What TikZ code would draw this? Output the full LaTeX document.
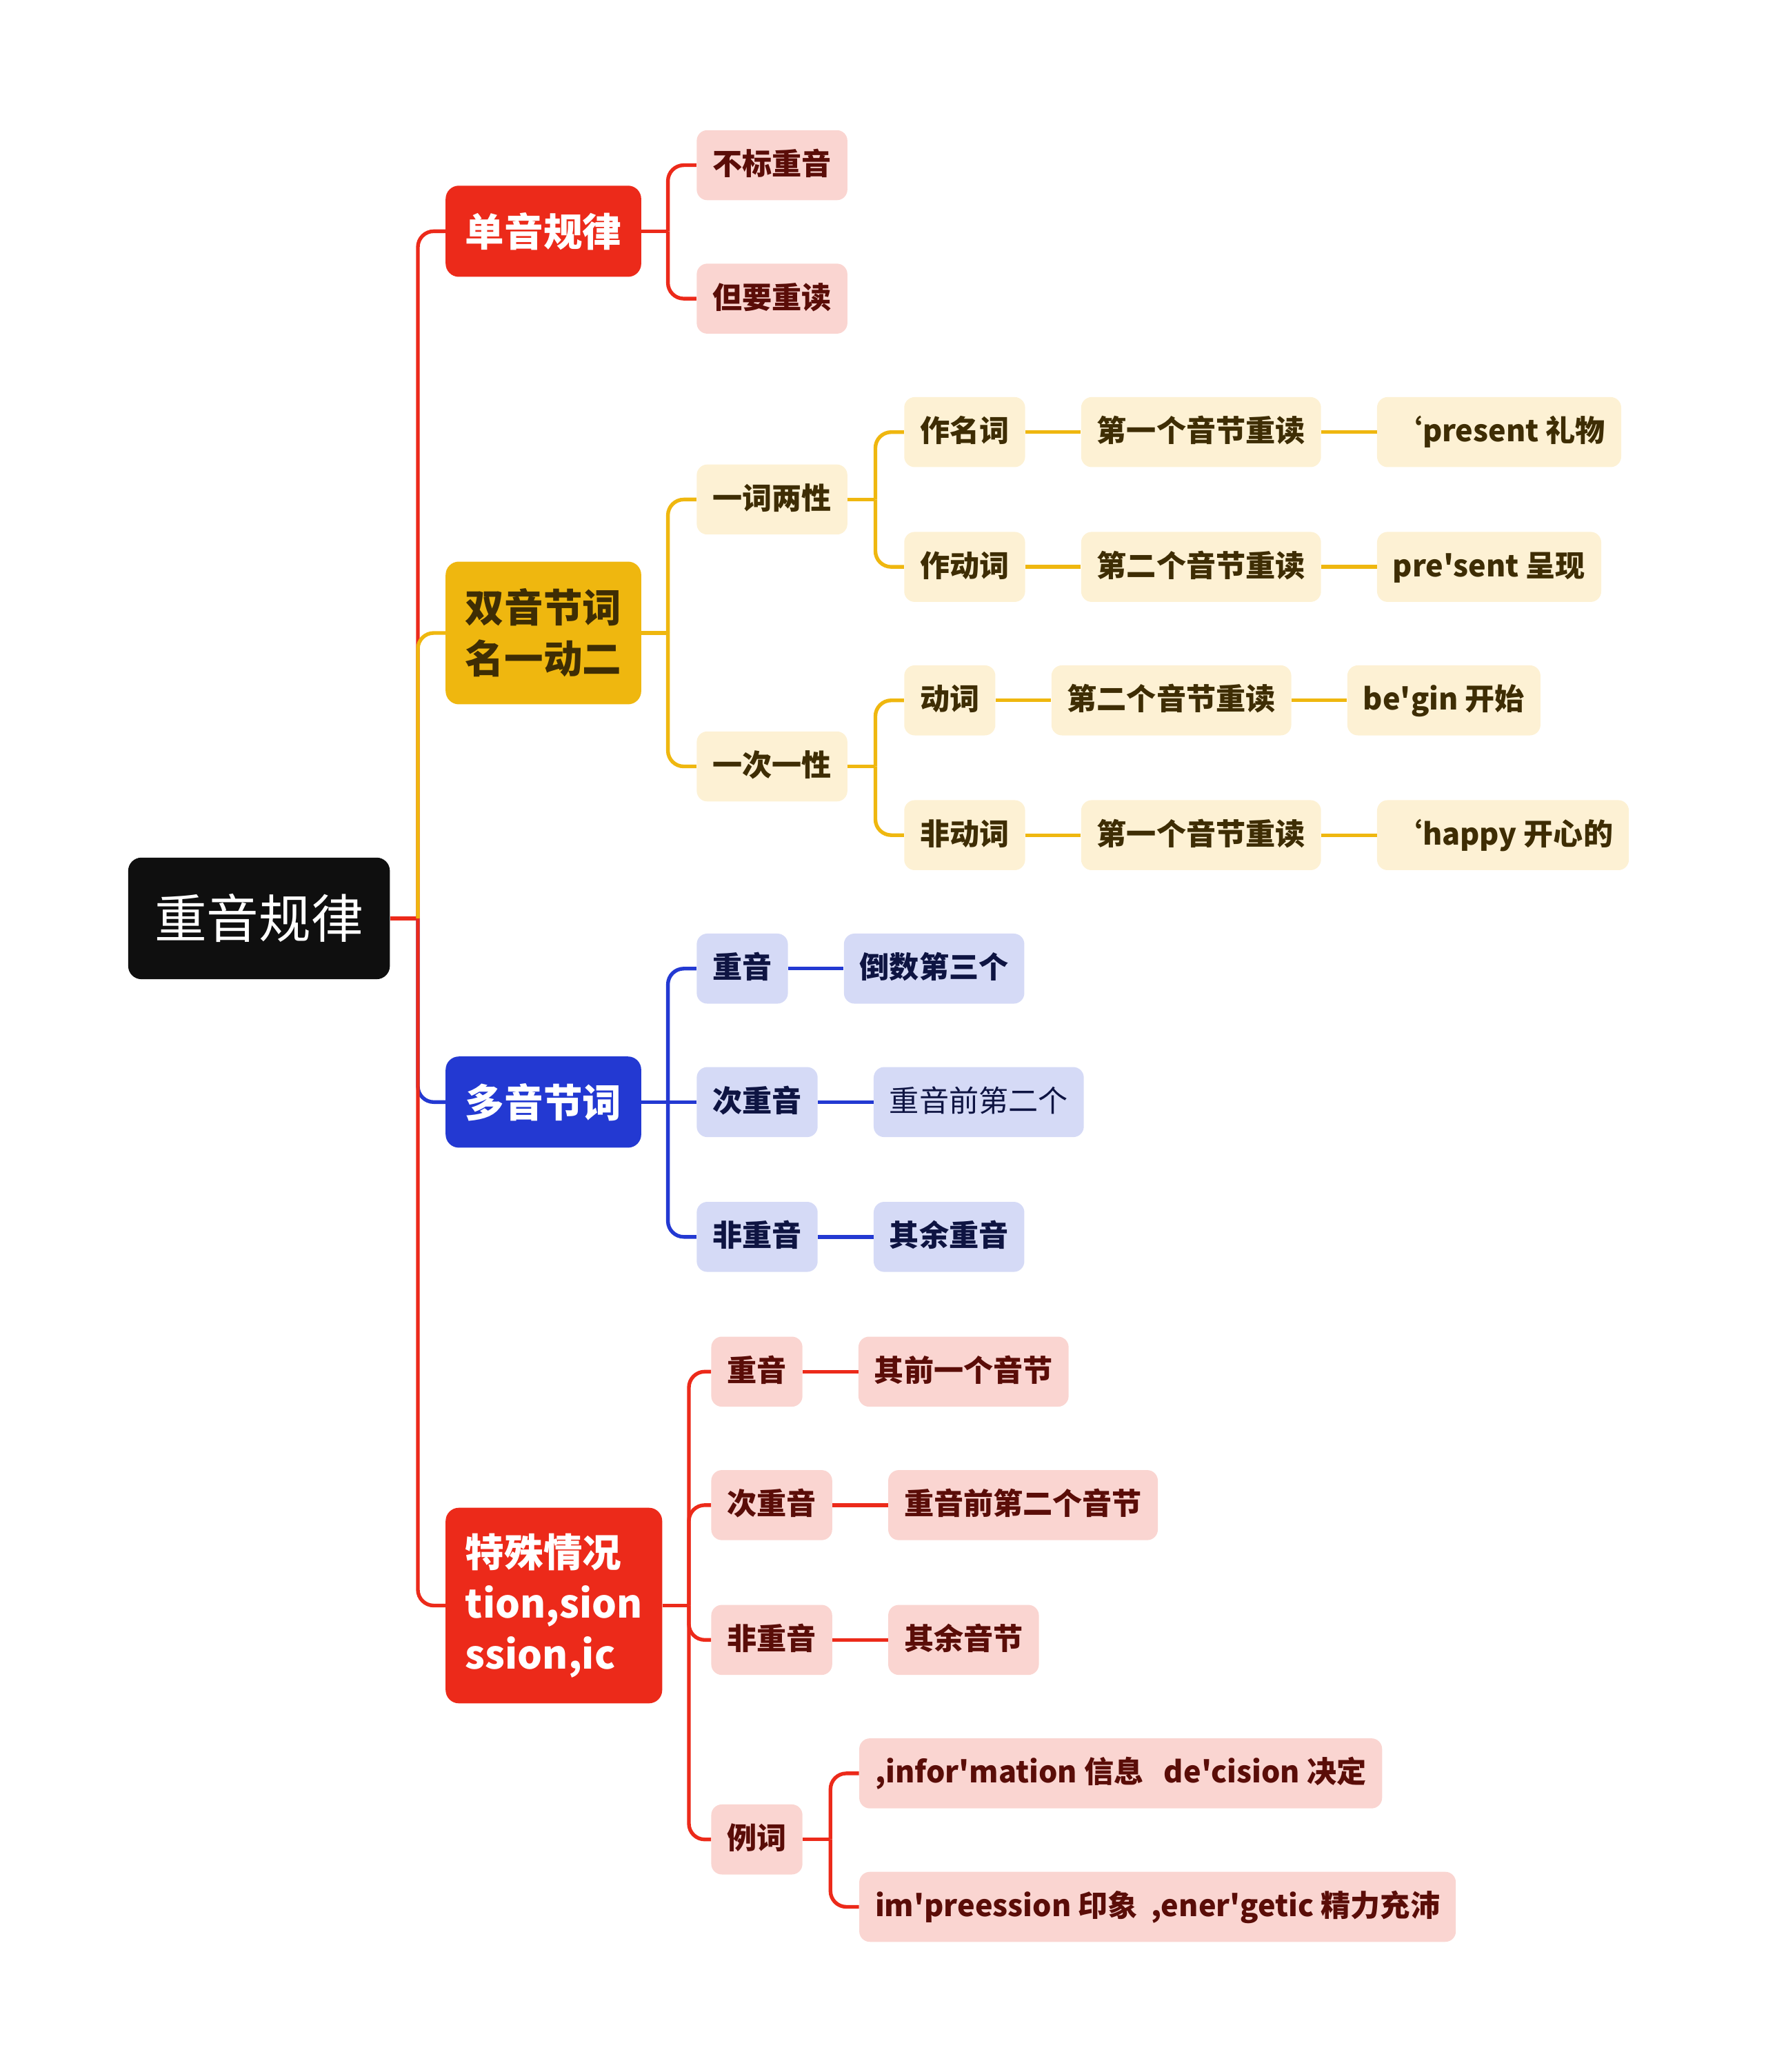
\documentclass[tikz,border=0pt]{standalone}
\usepackage{fontspec}
\newfontfamily\cjk{Noto Sans CJK SC}
\usetikzlibrary{positioning}

\definecolor{rootblack}{HTML}{0F0F0F}
\definecolor{mainred}{HTML}{EC2A1A}
\definecolor{mainyellow}{HTML}{EFB70F}
\definecolor{mainblue}{HTML}{2339D2}
\definecolor{pinkfill}{HTML}{FAD5D1}
\definecolor{pinktext}{HTML}{5A0D08}
\definecolor{creamfill}{HTML}{FDF1D4}
\definecolor{creamtext}{HTML}{3E2D04}
\definecolor{lilacfill}{HTML}{D5DAF6}
\definecolor{lilactext}{HTML}{0E1442}

\tikzset{
    topic/.style={rounded corners=10pt, minimum width=148pt, minimum height=69pt, inner xsep=15pt, anchor=west, align=left, font=\cjk\bfseries\fontsize{29.5}{38.5}\selectfont},
    sub/.style={rounded corners=8pt, minimum height=53pt, inner xsep=12pt, anchor=west, text height=19pt, text depth=4.5pt, font=\cjk\bfseries\fontsize{22.5}{27}\selectfont},
    pinkbox/.style={sub, fill=pinkfill, text=pinktext},
    creambox/.style={sub, fill=creamfill, text=creamtext},
    lilacbox/.style={sub, fill=lilacfill, text=lilactext},
    redline/.style={draw=mainred, line width=2.8pt, rounded corners=12pt},
    yellowline/.style={draw=mainyellow, line width=2.8pt, rounded corners=12pt},
    blueline/.style={draw=mainblue, line width=2.8pt, rounded corners=12pt}
}

\begin{document}
\begin{tikzpicture}[x=1pt, y=-1pt]
    \useasboundingbox (0,0) rectangle (1336,1568);

    % Root and main branches
    \node[fill=rootblack, text=white, rounded corners=10pt, minimum width=198pt, minimum height=92pt, font=\cjk\fontsize{39.5}{46}\selectfont] (rule) at (196,695) {重音规律};
    \node[topic, fill=mainred, text=white] (single) at (337,175) {单音规律};
    \node[topic, fill=mainyellow, text=creamtext, minimum height=108pt] (dual) at (337,479) {双音节词\\名一动二};
    \node[topic, fill=mainblue, text=white] (multi) at (337,834) {多音节词};
    \node[topic, fill=mainred, text=white, minimum width=160pt, minimum height=148pt] (special) at (337,1215) {特殊情况\\tion,sion\\ssion,ic};

    % Single syllable
    \node[pinkbox] (nomark) at (527,125) {不标重音};
    \node[pinkbox] (readit) at (527,226) {但要重读};

    % Two syllables
    \node[creambox] (twopos) at (527,378) {一词两性};
    \node[creambox] (onepos) at (527,580) {一次一性};
    \node[creambox] (noun) at (684,327) {作名词};
    \node[creambox, right=42pt of noun] (nounrule) {第一个音节重读};
    \node[creambox, right=42pt of nounrule] (nounex) {‘present 礼物};
    \node[creambox] (verb) at (684,429) {作动词};
    \node[creambox, right=42pt of verb] (verbrule) {第二个音节重读};
    \node[creambox, right=42pt of verbrule] (verbex) {pre'sent 呈现};
    \node[creambox] (verbonly) at (684,530) {动词};
    \node[creambox, right=42pt of verbonly] (vrule) {第二个音节重读};
    \node[creambox, right=42pt of vrule] (vex) {be'gin 开始};
    \node[creambox] (nonverb) at (684,632) {非动词};
    \node[creambox, right=42pt of nonverb] (nrule) {第一个音节重读};
    \node[creambox, right=42pt of nrule] (nex) {‘happy 开心的};

    % Many syllables
    \node[lilacbox] (mstress) at (527,733) {重音};
    \node[lilacbox, right=42pt of mstress] (mstressr) {倒数第三个};
    \node[lilacbox] (msec) at (527,834) {次重音};
    \node[lilacbox, right=42pt of msec, font=\cjk\fontsize{22.5}{27}\selectfont] (msecr) {重音前第二个};
    \node[lilacbox] (mnon) at (527,936) {非重音};
    \node[lilacbox, right=42pt of mnon] (mnonr) {其余重音};

    % Special cases
    \node[pinkbox] (sstress) at (538,1038) {重音};
    \node[pinkbox, right=42pt of sstress] (sstressr) {其前一个音节};
    \node[pinkbox] (ssec) at (538,1139) {次重音};
    \node[pinkbox, right=42pt of ssec] (ssecr) {重音前第二个音节};
    \node[pinkbox] (snon) at (538,1241) {非重音};
    \node[pinkbox, right=42pt of snon] (snonr) {其余音节};
    \node[pinkbox] (sex) at (538,1392) {例词};
    \node[pinkbox] (sexa) at (650,1342) {,infor'mation 信息\ \ \ de'cision 决定};
    \node[pinkbox] (sexb) at (650,1443) {im'preession 印象\ \ ,ener'getic 精力充沛};

    % Lines from the root
    \coordinate (rootsplit) at ([xshift=21pt]rule.east);
    \draw[redline] (rule.east) -- (rootsplit);
    \draw[blueline] (rootsplit) |- (multi.west);
    \draw[redline] (rootsplit) |- (single.west);
    \draw[redline] (rootsplit) |- (special.west);
    \draw[yellowline] (rootsplit) |- (dual.west);

    % Lines, single syllable
    \coordinate (singlesplit) at ([xshift=20pt]single.east);
    \draw[redline] (single.east) -- (singlesplit);
    \draw[redline] (singlesplit) |- (nomark.west);
    \draw[redline] (singlesplit) |- (readit.west);

    % Lines, two syllables
    \coordinate (dualsplit) at ([xshift=20pt]dual.east);
    \draw[yellowline] (dual.east) -- (dualsplit);
    \draw[yellowline] (dualsplit) |- (twopos.west);
    \draw[yellowline] (dualsplit) |- (onepos.west);
    \coordinate (twosplit) at ([xshift=21pt]twopos.east);
    \draw[yellowline] (twopos.east) -- (twosplit);
    \draw[yellowline] (twosplit) |- (noun.west);
    \draw[yellowline] (twosplit) |- (verb.west);
    \coordinate (onesplit) at ([xshift=21pt]onepos.east);
    \draw[yellowline] (onepos.east) -- (onesplit);
    \draw[yellowline] (onesplit) |- (verbonly.west);
    \draw[yellowline] (onesplit) |- (nonverb.west);
    \draw[yellowline] (noun) -- (nounrule);
    \draw[yellowline] (nounrule) -- (nounex);
    \draw[yellowline] (verb) -- (verbrule);
    \draw[yellowline] (verbrule) -- (verbex);
    \draw[yellowline] (verbonly) -- (vrule);
    \draw[yellowline] (vrule) -- (vex);
    \draw[yellowline] (nonverb) -- (nrule);
    \draw[yellowline] (nrule) -- (nex);

    % Lines, many syllables
    \coordinate (multisplit) at ([xshift=20pt]multi.east);
    \draw[blueline] (multi.east) -- (multisplit);
    \draw[blueline] (multisplit) |- (mstress.west);
    \draw[blueline] (multisplit) -- (msec.west);
    \draw[blueline] (multisplit) |- (mnon.west);
    \draw[blueline] (mstress) -- (mstressr);
    \draw[blueline] (msec) -- (msecr);
    \draw[blueline] (mnon) -- (mnonr);

    % Lines, special cases
    \coordinate (specialsplit) at ([xshift=20pt]special.east);
    \draw[redline] (special.east) -- (specialsplit);
    \draw[redline] (specialsplit) |- (sstress.west);
    \draw[redline] (specialsplit) |- (ssec.west);
    \draw[redline] (specialsplit) |- (snon.west);
    \draw[redline] (specialsplit) |- (sex.west);
    \draw[redline] (sstress) -- (sstressr);
    \draw[redline] (ssec) -- (ssecr);
    \draw[redline] (snon) -- (snonr);
    \coordinate (exsplit) at ([xshift=21pt]sex.east);
    \draw[redline] (sex.east) -- (exsplit);
    \draw[redline] (exsplit) |- (sexa.west);
    \draw[redline] (exsplit) |- (sexb.west);
\end{tikzpicture}
\end{document}
